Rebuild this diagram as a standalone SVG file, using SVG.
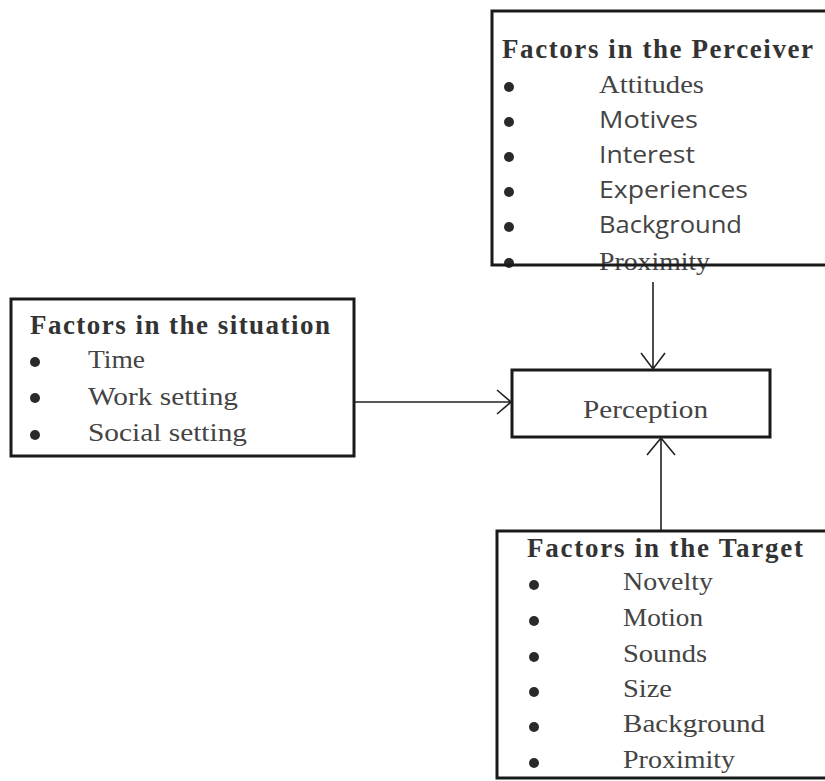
<svg xmlns="http://www.w3.org/2000/svg" width="825" height="781" viewBox="0 0 825 781">
<style>
.box{fill:none;stroke:#1a1a1a;stroke-width:3}
.h{font-family:"Liberation Serif",serif;font-weight:bold;font-size:27px;fill:#333}
.s{font-family:"Liberation Serif",serif;font-size:26px;fill:#444}
.c{font-family:"Open Sans",sans-serif;font-size:23px;fill:#444}
.b{fill:#2a2a2a}
.ln{stroke:#222;stroke-width:1.6;fill:none}
</style>
<rect width="825" height="781" fill="#fff"/>
<g id="perceiver">
<text class="h" x="502" y="58" textLength="311" lengthAdjust="spacing">Factors in the Perceiver</text>
<text class="s" x="599" y="93" textLength="105" lengthAdjust="spacingAndGlyphs">Attitudes</text>
<text class="c" x="599" y="128" textLength="99" lengthAdjust="spacingAndGlyphs">Motives</text>
<text class="c" x="599" y="163" textLength="96" lengthAdjust="spacingAndGlyphs">Interest</text>
<text class="c" x="599" y="198" textLength="149" lengthAdjust="spacingAndGlyphs">Experiences</text>
<text class="c" x="599" y="233" textLength="143" lengthAdjust="spacingAndGlyphs">Background</text>
<text class="s" x="599" y="270" textLength="111" lengthAdjust="spacingAndGlyphs">Proximity</text>
<circle class="b" cx="509" cy="87" r="5"/>
<circle class="b" cx="509" cy="122" r="5"/>
<circle class="b" cx="509" cy="157" r="5"/>
<circle class="b" cx="509" cy="192" r="5"/>
<circle class="b" cx="509" cy="227" r="5"/>
<circle class="b" cx="509" cy="263" r="5"/>
<rect class="box" x="492" y="11" width="340" height="254"/>
</g>
<g id="situation">
<rect class="box" x="11" y="299" width="343" height="157"/>
<text class="h" x="30" y="334" textLength="300" lengthAdjust="spacing">Factors in the situation</text>
<text class="s" x="88" y="368" textLength="57" lengthAdjust="spacingAndGlyphs">Time</text>
<text class="s" x="88" y="405" textLength="150" lengthAdjust="spacingAndGlyphs">Work setting</text>
<text class="s" x="88" y="441" textLength="159" lengthAdjust="spacingAndGlyphs">Social setting</text>
<circle class="b" cx="35" cy="362" r="5"/>
<circle class="b" cx="35" cy="398" r="5"/>
<circle class="b" cx="35" cy="435" r="5"/>
</g>
<g id="perception">
<rect class="box" x="512" y="370" width="258" height="67"/>
<text class="s" x="583" y="418" textLength="125" lengthAdjust="spacingAndGlyphs">Perception</text>
</g>
<g id="target">
<rect class="box" x="497" y="531" width="340" height="247"/>
<text class="h" x="527" y="557" textLength="276" lengthAdjust="spacing">Factors in the Target</text>
<text class="s" x="623" y="590" textLength="90" lengthAdjust="spacingAndGlyphs">Novelty</text>
<text class="s" x="623" y="626" textLength="80" lengthAdjust="spacingAndGlyphs">Motion</text>
<text class="s" x="623" y="662" textLength="84" lengthAdjust="spacingAndGlyphs">Sounds</text>
<text class="s" x="623" y="697" textLength="49" lengthAdjust="spacingAndGlyphs">Size</text>
<text class="s" x="623" y="732" textLength="142" lengthAdjust="spacingAndGlyphs">Background</text>
<text class="s" x="623" y="768" textLength="112" lengthAdjust="spacingAndGlyphs">Proximity</text>
<circle class="b" cx="534" cy="585" r="5"/>
<circle class="b" cx="534" cy="621" r="5"/>
<circle class="b" cx="534" cy="657" r="5"/>
<circle class="b" cx="534" cy="692" r="5"/>
<circle class="b" cx="534" cy="727" r="5"/>
<circle class="b" cx="534" cy="763" r="5"/>
</g>
<g id="connectors">
<path class="ln" d="M653 282V369M641 353L653 369L665 353"/>
<path class="ln" d="M355 402H511M497 390L511 402L497 414"/>
<path class="ln" d="M661 530V438M647 455L661 438L675 455"/>
</g>
</svg>
